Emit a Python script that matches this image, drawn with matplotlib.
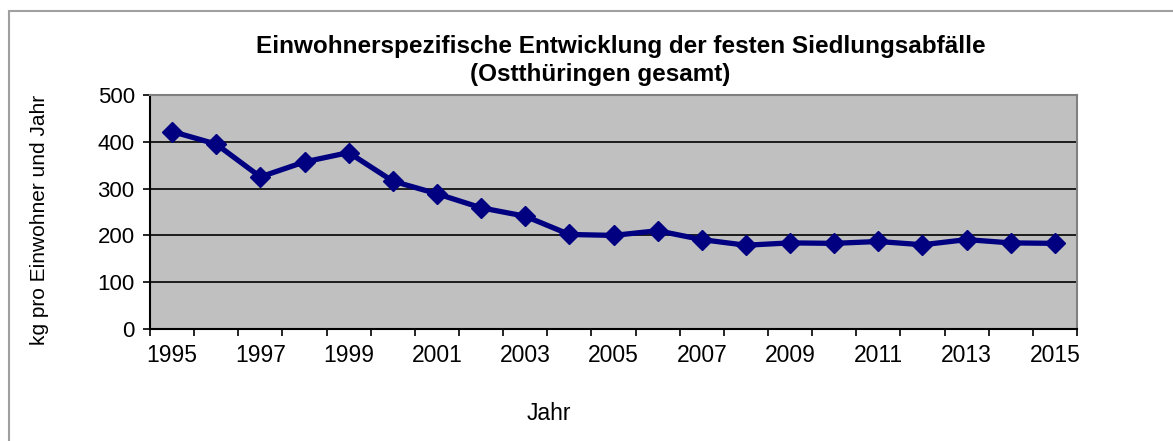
import matplotlib
matplotlib.use("Agg")
import matplotlib.pyplot as plt
from matplotlib.patches import Rectangle
from matplotlib.ticker import FixedLocator, NullFormatter

plt.rcParams["font.family"] = ["Liberation Sans", "DejaVu Sans"]

# ── data ─────────────────────────────────────────────────────────────
years = list(range(1995, 2016))
kg_per_inhabitant = [422, 395, 325, 357, 377, 316, 289, 259, 241, 202, 200,
                     210, 191, 179, 184, 183, 187, 180, 191, 184, 183]
y_ticks = [0, 100, 200, 300, 400, 500]

W, H = 1173, 441
fig = plt.figure(figsize=(W / 100, H / 100), dpi=100)

# outer chart frame (only top and left edges visible in the crop)
fig.patches.append(Rectangle((9 / W, -0.05), 1.2, (H - 11) / H + 0.05,
                             transform=fig.transFigure, fill=False,
                             edgecolor="#a0a0a0", lw=1.5))

ax = fig.add_axes([150 / W, (H - 329) / H, (1077 - 150) / W, (329 - 95) / H])
ax.set_facecolor("#c0c0c0")
for s in ax.spines.values():
    s.set_color("#808080")
    s.set_linewidth(1.5)
ax.spines["left"].set_color("black")
ax.spines["bottom"].set_color("black")

x = list(range(len(years)))
ax.plot(x, kg_per_inhabitant, color="#000080", lw=3.8, marker="D",
        markersize=10, zorder=3)

ax.set_xlim(-0.5, len(years) - 0.5)
ax.set_ylim(0, 500)
ax.set_yticks(y_ticks)
ax.yaxis.grid(True, color="black", lw=1.2)
ax.set_axisbelow(True)

# category axis: labels every second year, tick marks between categories
ax.set_xticks(x[::2])
ax.set_xticklabels([str(y) for y in years[::2]])
ax.xaxis.set_minor_locator(FixedLocator([i - 0.5 for i in range(len(years) + 1)]))
ax.xaxis.set_minor_formatter(NullFormatter())
ax.tick_params(axis="x", which="major", length=0, labelsize=16.5, pad=11)
ax.tick_params(axis="x", which="minor", length=5, width=1.2, color="black")
ax.tick_params(axis="y", length=5, width=1.2, labelsize=16, pad=6)

fig.text(621 / W, 1 - 47 / H, "Einwohnerspezifische Entwicklung der festen Siedlungsabfälle",
         ha="center", va="center", fontsize=17.5, fontweight="bold")
fig.text(600 / W, 1 - 74 / H, "(Ostthüringen gesamt)",
         ha="center", va="center", fontsize=17.5, fontweight="bold")
fig.text(40 / W, 1 - 220 / H, "kg pro Einwohner und Jahr", rotation=90,
         ha="center", va="center", fontsize=15)
fig.text(549 / W, 1 - 413 / H, "Jahr", ha="center", va="center", fontsize=16.5)

fig.savefig("out.png", dpi=100)
